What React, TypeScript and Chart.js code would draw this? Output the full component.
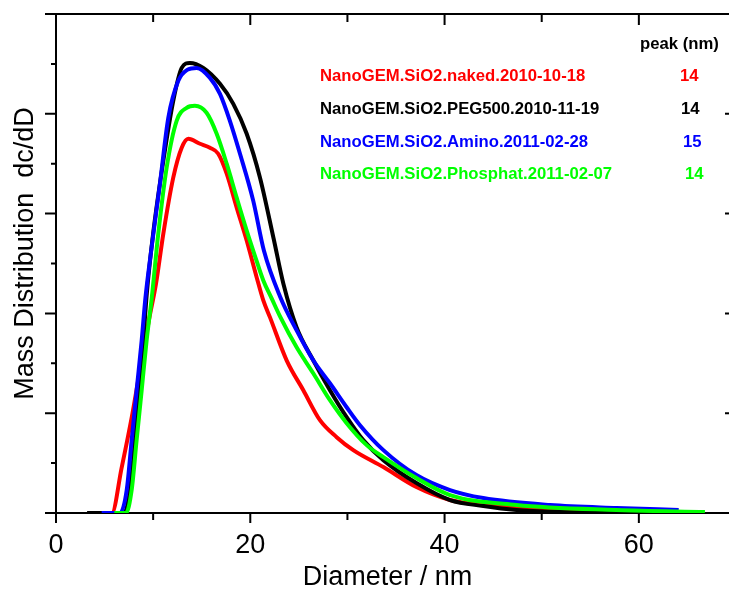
import React, { useEffect, useRef } from 'react';
import { Chart, registerables } from 'chart.js';

Chart.register(...registerables);

const FONT = '"Liberation Sans", Arial, Helvetica, sans-serif';

// ---- data ----
const seriesNames = [
  'NanoGEM.SiO2.naked.2010-10-18',
  'NanoGEM.SiO2.PEG500.2010-11-19',
  'NanoGEM.SiO2.Amino.2011-02-28',
  'NanoGEM.SiO2.Phosphat.2011-02-07',
];
const seriesColors = ['#ff0000', '#000000', '#0000ff', '#00ff00'];
const peakValues = ['14', '14', '15', '14'];
const peakHeader = 'peak (nm)';
const xTitle = 'Diameter / nm';
const yTitle = 'Mass Distribution  dc/dD';

const xMajorTicks = [0, 20, 40, 60];
const xMinorTicks = [10, 30, 50, 70];
const yMajorTicks = [0, 1, 2, 3, 4, 5];
const yMinorTicks = [0.5, 1.5, 2.5, 3.5, 4.5];

const redX = [5.5, 5.75, 6.75, 7.8, 8.9, 9.6, 10.3, 11.05, 12.07, 12.94, 13.62, 14.82, 15.85, 16.7, 17.57, 18.6, 19.63, 20.66, 21.34, 22.03, 23.74, 25.46, 27.17, 28.89, 30.6, 33.7, 37.1, 40.56, 44.0, 47.4, 52.0, 57.4];
const redY = [0, 0, 0.45, 0.96, 1.58, 1.95, 2.3, 2.8, 3.36, 3.66, 3.75, 3.7, 3.66, 3.6, 3.4, 3.06, 2.73, 2.36, 2.13, 1.96, 1.53, 1.23, 0.93, 0.76, 0.63, 0.46, 0.26, 0.13, 0.08, 0.05, 0.02, 0.0];

const blackX = [3.2, 7.0, 7.62, 8.13, 8.58, 8.99, 9.35, 10.0, 11.05, 12.07, 12.94, 13.79, 15.16, 16.88, 18.25, 19.63, 21.0, 22.4, 23.4, 24.77, 26.48, 28.2, 29.92, 31.63, 33.7, 37.1, 40.56, 44.0, 47.4, 52.0, 59.4];
const blackY = [0, 0, 0.23, 0.73, 1.23, 1.73, 2.2, 2.8, 3.53, 4.13, 4.46, 4.51, 4.46, 4.3, 4.1, 3.8, 3.36, 2.75, 2.3, 1.86, 1.53, 1.23, 0.96, 0.73, 0.53, 0.3, 0.13, 0.07, 0.03, 0.01, 0];

const blueX = [4.7, 6.6, 7.28, 7.79, 8.3, 8.82, 9.2, 9.8, 10.7, 11.56, 12.59, 13.5, 14.48, 15.85, 16.88, 17.9, 18.94, 20.3, 21.4, 23.06, 24.77, 26.48, 28.2, 29.92, 31.29, 33.7, 37.1, 40.56, 43.98, 50.85, 57.7, 64.1];
const blueY = [0, 0, 0.23, 0.73, 1.23, 1.73, 2.15, 2.63, 3.3, 3.96, 4.33, 4.44, 4.46, 4.36, 4.2, 3.93, 3.6, 3.13, 2.63, 2.17, 1.83, 1.53, 1.3, 1.06, 0.88, 0.63, 0.38, 0.23, 0.15, 0.08, 0.05, 0.03];

const greenX = [6.0, 7.2, 7.79, 8.3, 8.82, 9.33, 9.85, 10.53, 11.39, 12.42, 13.45, 14.3, 15.5, 16.54, 17.57, 18.6, 19.63, 20.4, 21.34, 22.2, 23.06, 24.77, 26.48, 28.2, 29.92, 31.98, 33.7, 37.1, 40.56, 47.4, 57.7, 66.8];
const greenY = [0, 0, 0.23, 0.73, 1.23, 1.73, 2.15, 2.8, 3.46, 3.93, 4.06, 4.08, 4.01, 3.8, 3.5, 3.16, 2.83, 2.6, 2.33, 2.15, 1.97, 1.66, 1.4, 1.13, 0.9, 0.68, 0.56, 0.35, 0.18, 0.08, 0.03, 0.01];

const seriesX = [redX, blackX, blueX, greenX];
const seriesY = [redY, blackY, blueY, greenY];

const framePlugin = {
  id: 'framePlugin',
  beforeDatasetsDraw(chart: any) {
    const { ctx, chartArea, scales } = chart;
    const { left, right, top, bottom } = chartArea;
    const x = scales.x;
    const y = scales.y;
    ctx.save();
    ctx.strokeStyle = '#000';
    ctx.lineWidth = 2;
    ctx.beginPath();
    ctx.rect(left, top, right - left, bottom - top);
    xMajorTicks.forEach((v) => {
      const px = x.getPixelForValue(v);
      ctx.moveTo(px, bottom); ctx.lineTo(px, bottom + 10);
      ctx.moveTo(px, top); ctx.lineTo(px, top + 11);
    });
    xMinorTicks.forEach((v) => {
      const px = x.getPixelForValue(v);
      ctx.moveTo(px, bottom); ctx.lineTo(px, bottom + 7);
      ctx.moveTo(px, top); ctx.lineTo(px, top + 8);
    });
    yMajorTicks.forEach((v) => {
      const py = y.getPixelForValue(v);
      ctx.moveTo(left, py); ctx.lineTo(left - 11, py);
      ctx.moveTo(right, py); ctx.lineTo(right - 11, py);
    });
    yMinorTicks.forEach((v) => {
      const py = y.getPixelForValue(v);
      ctx.moveTo(left, py); ctx.lineTo(left - 5, py);
      ctx.moveTo(right, py); ctx.lineTo(right - 6, py);
    });
    ctx.stroke();
    ctx.restore();
  },
};

const textPlugin = {
  id: 'textPlugin',
  afterDraw(chart: any) {
    const { ctx } = chart;
    ctx.save();
    // axis titles
    ctx.fillStyle = '#000';
    ctx.font = `27px ${FONT}`;
    ctx.textAlign = 'center';
    ctx.textBaseline = 'alphabetic';
    ctx.fillText(xTitle, 387.5, 585);
    ctx.save();
    ctx.translate(33, 253.5);
    ctx.rotate(-Math.PI / 2);
    ctx.fillText(yTitle, 0, 0);
    ctx.restore();

    // legend block
    ctx.textAlign = 'left';
    ctx.font = `bold 16.7px ${FONT}`;
    ctx.fillStyle = '#000';
    ctx.fillText(peakHeader, 640, 49);
    const baselines = [81, 114, 146.7, 179.3];
    const peakX = [680, 681, 683, 685];
    seriesNames.forEach((name, i) => {
      ctx.fillStyle = seriesColors[i];
      ctx.fillText(name, 320, baselines[i]);
      ctx.fillText(peakValues[i], peakX[i], baselines[i]);
    });
    ctx.restore();
  },
};

export default function App() {
  const ref = useRef<HTMLCanvasElement | null>(null);
  useEffect(() => {
    if (!ref.current) return;
    const datasets = seriesNames.map((name, i) => ({
      label: name,
      data: seriesX[i].map((xv, j) => ({ x: xv, y: seriesY[i][j] })),
      borderColor: seriesColors[i],
      backgroundColor: seriesColors[i],
      borderWidth: 4,
      pointRadius: 0,
      fill: false,
      cubicInterpolationMode: 'monotone' as const,
      order: 4 - i,
    }));
    const chart = new Chart(ref.current, {
      type: 'line',
      data: { datasets },
      options: {
        responsive: false,
        animation: false,
        layout: { padding: { left: 56, top: 14, right: 24, bottom: 0 } },
        plugins: {
          legend: { display: false },
          tooltip: { enabled: false },
        },
        scales: {
          x: {
            type: 'linear',
            min: 0,
            max: 70,
            position: 'bottom',
            grid: { display: false, drawTicks: false },
            border: { display: false },
            ticks: {
              stepSize: 20,
              includeBounds: false,
              padding: 16,
              color: '#000',
              autoSkip: false,
              maxRotation: 0,
              font: { family: FONT, size: 27 },
            },
            afterFit: (s: any) => {
              s.height = 76;
            },
          },
          y: {
            type: 'linear',
            min: 0,
            max: 5,
            display: false,
          },
        },
      },
      plugins: [framePlugin, textPlugin],
    });
    return () => chart.destroy();
  }, []);
  return (
    <div
      style={{
        position: 'fixed',
        left: 0,
        top: 0,
        width: 729,
        height: 589,
        overflow: 'hidden',
        background: '#fff',
      }}
    >
      <canvas ref={ref} width={760} height={589} style={{ display: 'block' }} />
    </div>
  );
}
